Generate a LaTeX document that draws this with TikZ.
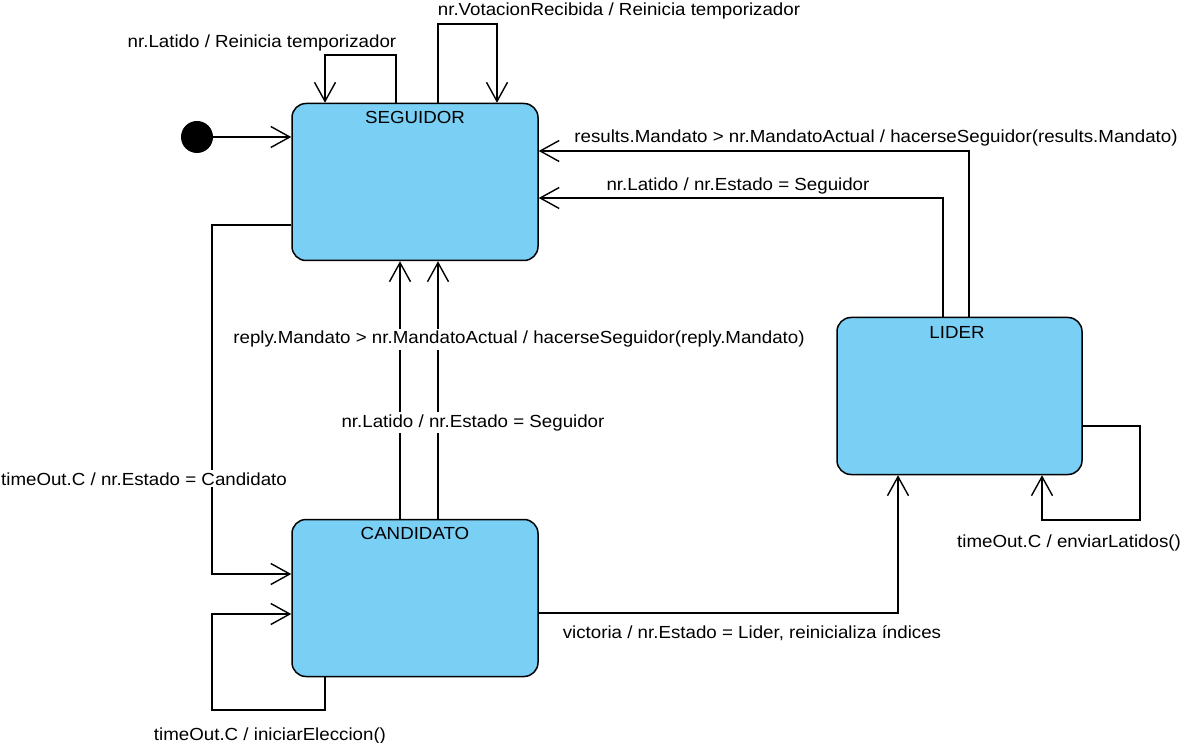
\documentclass[tikz,border=0pt]{standalone}
\usepackage{fontspec}
\setmainfont{Liberation Sans}[FakeStretch=1.07]
\usetikzlibrary{arrows.meta}
\definecolor{stfill}{RGB}{122,207,244}
\begin{document}
\begin{tikzpicture}[x=1pt,y=-1pt,
  every node/.style={font=\fontsize{17.5}{20}\selectfont},
  stt/.style={draw=black,line width=1.5pt,fill=stfill,rounded corners=14pt,minimum width=246pt,minimum height=157pt,inner sep=0pt},
  tr/.style={line width=1.4pt,-{Straight Barb[length=19pt,width=21pt,line width=1.4pt]}},
  lbl/.style={anchor=base,inner sep=1pt},
  lblw/.style={anchor=base,inner sep=2pt,fill=white}]
\useasboundingbox (0,0) rectangle (1181,743);
\fill[white] (0,0) rectangle (1181,743);
% states
\node[stt] (seg) at (415,182) {};
\node[stt] (cand) at (415,598) {};
\node[stt,minimum width=245pt] (lid) at (959.5,396) {};
\node[lbl] (segt) at (415,124) {SEGUIDOR};
\node[lbl] (candt) at (415,539) {CANDIDATO};
\node[lbl] (lidt) at (957,339) {LIDER};
\node[circle,fill=black,minimum size=32pt,inner sep=0pt] (init) at (197,137) {};
% initial
\draw[tr] (init) -- (init -| seg.west);
% seguidor self loops
\draw[tr] (396,0 |- seg.north) -- (396,55) -- (325,55) -- (325,0 |- seg.north);
\node[lbl] (l1) at (262,48) {nr.Latido / Reinicia temporizador};
\draw[tr] (438,0 |- seg.north) -- (438,24) -- (497,24) -- (497,0 |- seg.north);
\node[lbl] (l2) at (619,16) {nr.VotacionRecibida / Reinicia temporizador};
% lider -> seguidor
\draw[tr] (969,0 |- lid.north) -- (969,151) -- (0,151 -| seg.east);
\node[lbl] (l3) at (876,143) {results.Mandato > nr.MandatoActual / hacerseSeguidor(results.Mandato)};
\draw[tr] (943,0 |- lid.north) -- (943,198) -- (0,198 -| seg.east);
\node[lbl] (l4) at (738,191) {nr.Latido / nr.Estado = Seguidor};
% candidato -> seguidor
\draw[tr] (400,0 |- cand.north) -- (400,0 |- seg.south);
\draw[tr] (438,0 |- cand.north) -- (438,0 |- seg.south);
\node[lblw] (l5) at (519,344) {reply.Mandato > nr.MandatoActual / hacerseSeguidor(reply.Mandato)};
\node[lblw] (l6) at (473,427) {nr.Latido / nr.Estado = Seguidor};
% seguidor -> candidato
\draw[tr] (0,225 -| seg.west) -- (212,225) -- (212,574) -- (0,574 -| cand.west);
\node[lblw] (l7) at (144,485) {timeOut.C / nr.Estado = Candidato};
% candidato self loop
\draw[tr] (325,0 |- cand.south) -- (325,710) -- (212,710) -- (212,614) -- (0,614 -| cand.west);
\node[lbl] (l8) at (270,740) {timeOut.C / iniciarEleccion()};
% candidato -> lider
\draw[tr] (0,613 -| cand.east) -- (898,613) -- (898,0 |- lid.south);
\node[lbl] (l9) at (752,638) {victoria / nr.Estado = Lider, reinicializa índices};
% lider self loop
\draw[tr] (0,426 -| lid.east) -- (1140,426) -- (1140,520) -- (1042,520) -- (1042,0 |- lid.south);
\node[lbl] (l10) at (1069,547) {timeOut.C / enviarLatidos()};
\end{tikzpicture}
\end{document}
